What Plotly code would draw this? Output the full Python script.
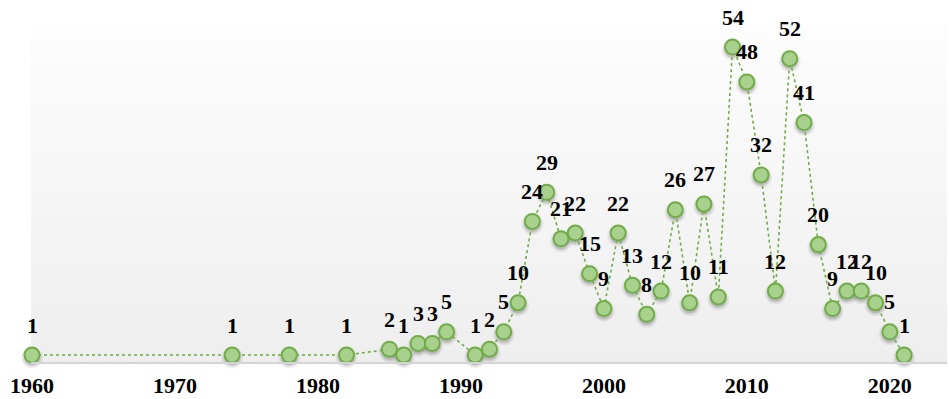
import plotly.graph_objects as go

# Yearly counts
years = [1960, 1974, 1978, 1982, 1985, 1986, 1987, 1988, 1989, 1991,
         1992, 1993, 1994, 1995, 1996, 1997, 1998, 1999, 2000, 2001,
         2002, 2003, 2004, 2005, 2006, 2007, 2008, 2009, 2010, 2011,
         2012, 2013, 2014, 2015, 2016, 2017, 2018, 2019, 2020, 2021]
counts = [1, 1, 1, 1, 2, 1, 3, 3, 5, 1,
          2, 5, 10, 24, 29, 21, 22, 15, 9, 22,
          13, 8, 12, 26, 10, 27, 11, 54, 48, 32,
          12, 52, 41, 20, 9, 12, 12, 10, 5, 1]
tick_years = [1960, 1970, 1980, 1990, 2000, 2010, 2020]

LINE_GREEN = "#70ad47"
FILL_GREEN = "#a9d18e"
FONT = "Times New Roman, Liberation Serif, Times, serif"

Y_RANGE = [-0.2, 57.45]
PLOT_H = 399 - 27 - 37
# data units per pixel, used to drop the marker shadow a couple of pixels
dy_px = (Y_RANGE[1] - Y_RANGE[0]) / PLOT_H

fig = go.Figure()

# blurred drop shadow under the markers (a few soft layers)
for size, alpha in [(22, 0.05), (19, 0.08), (16, 0.12)]:
    fig.add_trace(go.Scatter(
        x=years, y=[v - 2.5 * dy_px for v in counts],
        mode="markers",
        marker=dict(size=size, color=f"rgba(0,0,0,{alpha})", line=dict(width=0)),
        cliponaxis=False, hoverinfo="skip", showlegend=False,
    ))

fig.add_trace(go.Scatter(
    x=years, y=counts,
    mode="lines+markers",
    line=dict(color=LINE_GREEN, width=1.6, dash="dot"),
    marker=dict(size=15, color=FILL_GREEN, line=dict(color=LINE_GREEN, width=2)),
    cliponaxis=False,
    hoverinfo="x+y",
    showlegend=False,
))

# value labels above each point
annotations = [
    dict(x=yr, y=v, text=f"<b>{v}</b>", showarrow=False, yshift=30,
         font=dict(family=FONT, size=22, color="black"))
    for yr, v in zip(years, counts)
]

# soft vertical gradient behind the plot area
shapes = []
n_bands = 60
top = (253, 253, 253)
bottom = (238, 238, 238)
for i in range(n_bands):
    t = (i + 0.5) / n_bands
    c = tuple(round(bottom[k] + (top[k] - bottom[k]) * t) for k in range(3))
    shapes.append(dict(
        type="rect", xref="paper", yref="paper",
        x0=0, x1=1, y0=i / n_bands, y1=(i + 1) / n_bands + 0.002,
        fillcolor=f"rgb{c}", line=dict(width=0), layer="below",
    ))

fig.update_layout(
    width=949, height=399,
    margin=dict(l=31, r=2, t=27, b=37, autoexpand=False),
    paper_bgcolor="white",
    plot_bgcolor="rgba(0,0,0,0)",
    annotations=annotations,
    shapes=shapes,
    xaxis=dict(
        range=[1959.93, 2024.0],
        tickvals=tick_years,
        ticktext=[f"<b>{t}</b>" for t in tick_years],
        showgrid=False, zeroline=False, automargin=False,
        showline=True, linecolor="#d4d4d4", linewidth=2,
        ticks="", ticklabelstandoff=3,
        tickfont=dict(family=FONT, size=22, color="black"),
    ),
    yaxis=dict(
        range=Y_RANGE,
        visible=False, showgrid=False, zeroline=False, automargin=False,
    ),
)

fig.write_html("out.html")
